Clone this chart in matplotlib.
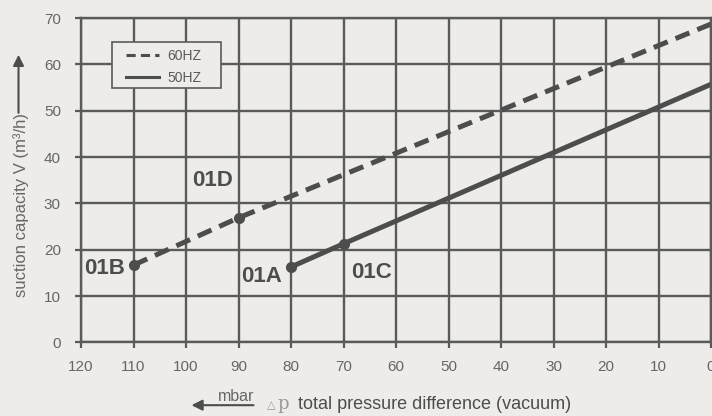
import matplotlib.pyplot as plt
from matplotlib.patches import Rectangle

plt.rcParams['font.family'] = ['Liberation Sans', 'DejaVu Sans']

# Data
dp_60 = [110, 90, 0]
v_60 = [16.7, 26.9, 68.7]
dp_50 = [80, 70, 0]
v_50 = [16.3, 21.3, 55.7]
x_ticks = list(range(0, 121, 10))
y_ticks = list(range(0, 71, 10))
point_labels = ['01B', '01D', '01A', '01C']
label_pos = [(115.6, 16.0), (95.0, 35.0), (85.7, 14.3), (64.6, 15.0)]

bg = '#edece8'
ink = '#4d4d4d'
grey = '#5a5a5a'
light = '#666666'

fig = plt.figure(figsize=(7.12, 4.16), dpi=100, facecolor=bg)
ax = fig.add_axes([0.1138, 0.1767, 0.8848, 0.78])
ax.set_facecolor(bg)

ax.set_xlim(120, 0)
ax.set_ylim(0, 70)
ax.set_xticks(x_ticks)
ax.set_yticks(y_ticks)
ax.grid(True, color=grey, linewidth=1.7)
for s in ax.spines.values():
    s.set_color(grey)
    s.set_linewidth(1.7)
ax.tick_params(colors=grey, labelcolor=light, labelsize=11, length=4.5, width=1.6)
ax.tick_params(axis='x', pad=8)
ax.tick_params(axis='y', pad=10)

# lines
ax.plot(dp_60, v_60, color=ink, linewidth=3.6, dashes=(3.0, 1.7), label='60HZ')
ax.plot(dp_50, v_50, color=ink, linewidth=3.6, label='50HZ')
ax.plot(dp_60[:2], v_60[:2], 'o', color=ink, markersize=7)
ax.plot(dp_50[:2], v_50[:2], 'o', color=ink, markersize=7)

for lab, (px, py) in zip(point_labels, label_pos):
    ax.text(px, py, lab, fontsize=16, fontweight='bold', color=ink, ha='center', va='center')

# legend box drawn by hand, entries placed inside it
ax.add_patch(Rectangle((112 / 712, 1 - 88 / 416), 109 / 712, 46 / 416,
                       transform=fig.transFigure, facecolor=bg, edgecolor=grey,
                       linewidth=1.2, zorder=5, clip_on=False))
leg = ax.legend(loc='upper left', bbox_to_anchor=(126 / 712, 1 - 49 / 416),
                bbox_transform=fig.transFigure, borderaxespad=0, borderpad=0,
                fontsize=10, frameon=False, handlelength=2.4, labelcolor=grey,
                labelspacing=0.55, handletextpad=0.6)
leg.set_zorder(6)
for h in leg.get_lines():
    h.set_linewidth(2.2)

# y label with arrow
fig.text(0.029, 0.507, 'suction capacity V (m³/h)', rotation=90, fontsize=12,
         color=light, ha='center', va='center')
fig.add_artist(plt.Annotation('', xy=(0.026, 0.875), xytext=(0.026, 0.722),
                              xycoords='figure fraction',
                              arrowprops=dict(arrowstyle='-|>', color=ink, lw=1.5,
                                              mutation_scale=16)))

# x label with arrow
fig.text(0.331, 0.036, 'mbar', fontsize=11.5, color=light, ha='center', va='baseline')
fig.add_artist(plt.Annotation('', xy=(0.265, 0.026), xytext=(0.36, 0.026),
                              xycoords='figure fraction',
                              arrowprops=dict(arrowstyle='-|>', color=ink, lw=1.5,
                                              mutation_scale=16)))
fig.text(0.375, 0.018, '△', fontsize=8, color='#999999', ha='left', va='baseline',
         family='DejaVu Sans')
fig.text(0.389, 0.018, 'p', fontsize=13, color='#999999', family='DejaVu Serif',
         ha='left', va='baseline')
fig.text(0.418, 0.018, 'total pressure difference (vacuum)', fontsize=13, color=ink,
         ha='left', va='baseline')

fig.savefig('out.png', dpi=100, facecolor=bg)
